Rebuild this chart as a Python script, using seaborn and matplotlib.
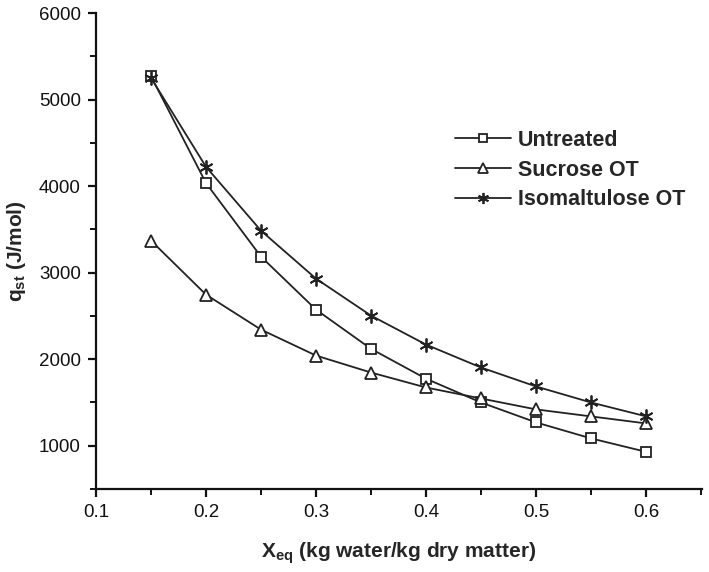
import matplotlib
matplotlib.use("Agg")
import matplotlib.pyplot as plt
import seaborn as sns
import pandas as pd
from matplotlib.ticker import MultipleLocator

x_eq = [0.15, 0.20, 0.25, 0.30, 0.35, 0.40, 0.45, 0.50, 0.55, 0.60]
untreated = [5270, 4035, 3185, 2573, 2120, 1775, 1500, 1270, 1085, 930]
sucrose_ot = [3370, 2746, 2342, 2042, 1846, 1673, 1546, 1420, 1339, 1258]
isomaltulose_ot = [5250, 4223, 3485, 2931, 2504, 2169, 1904, 1685, 1500, 1340]
series_names = ["Untreated", "Sucrose OT", "Isomaltulose OT"]
x_ticks = [0.1, 0.2, 0.3, 0.4, 0.5, 0.6]
y_ticks = [1000, 2000, 3000, 4000, 5000, 6000]

sns.set_theme(style="ticks")
plt.rcParams['font.family'] = ['Liberation Sans', 'DejaVu Sans']
plt.rcParams['mathtext.fontset'] = 'custom'
plt.rcParams['mathtext.rm'] = 'Liberation Sans:bold'
plt.rcParams['mathtext.it'] = 'Liberation Sans:bold'
plt.rcParams['mathtext.bf'] = 'Liberation Sans:bold'

df = pd.DataFrame({
    "x": x_eq * 3,
    "q": untreated + sucrose_ot + isomaltulose_ot,
    "series": [series_names[0]] * len(x_eq) + [series_names[1]] * len(x_eq) + [series_names[2]] * len(x_eq),
})

fig = plt.figure(figsize=(7.09, 5.72), dpi=100)
ax = fig.add_axes([96/709, 1 - 489/572, (702-96)/709, (489-13)/572])

markers = {"Untreated": "s", "Sucrose OT": "^", "Isomaltulose OT": (6, 2, 0)}
sizes = {"Untreated": 7, "Sucrose OT": 8.5, "Isomaltulose OT": 10}
for name in series_names:
    sub = df[df.series == name]
    sns.lineplot(data=sub, x="x", y="q", ax=ax, color="#222222", lw=1.3,
                 marker=markers[name], markersize=sizes[name],
                 markerfacecolor="white", markeredgecolor="#222222",
                 markeredgewidth=1.3, label=name, legend=False, sort=False)

ax.xaxis.set_minor_locator(MultipleLocator(0.05))
ax.yaxis.set_minor_locator(MultipleLocator(500))
ax.set_xticks(x_ticks)
ax.set_xticklabels([f"{v:.1f}" for v in x_ticks])
ax.set_yticks(y_ticks)
ax.set_xlim(0.1, 0.651)
ax.set_ylim(500, 6000)

for s in ["top", "right"]:
    ax.spines[s].set_visible(False)
for s in ["left", "bottom"]:
    ax.spines[s].set_linewidth(1.6)
    ax.spines[s].set_color("#111111")
ax.tick_params(which="major", direction="out", length=6, width=1.6, labelsize=13.5, colors="#111111", pad=5)
ax.tick_params(which="minor", direction="out", length=4, width=1.4, colors="#111111")

ax.set_xlabel(r"X$_{\mathregular{eq}}$ (kg water/kg dry matter)", fontsize=15, fontweight="bold", labelpad=14)
ax.set_ylabel(r"q$_{\mathregular{st}}$ (J/mol)", fontsize=15, fontweight="bold", labelpad=8)

leg = ax.legend(loc="upper left", bbox_to_anchor=(0.56, 0.795), frameon=False,
                prop={"size": 15.5, "weight": "bold"}, handlelength=2.6,
                labelspacing=0.4, handletextpad=0.35, markerscale=0.8)

fig.savefig("out.png", dpi=100, facecolor="white")
